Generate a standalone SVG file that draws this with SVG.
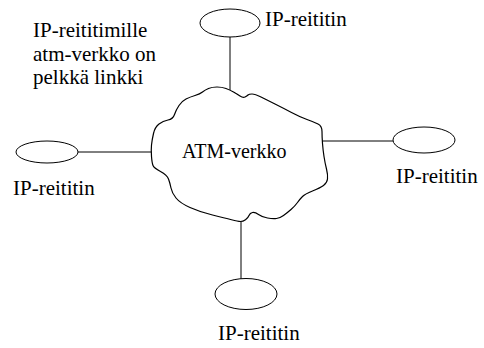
<svg xmlns="http://www.w3.org/2000/svg" width="484" height="348" viewBox="0 0 484 348">
  <style>
    .router { fill: #ffffff; stroke: #000000; stroke-width: 1; }
    .cloud { fill: #ffffff; stroke: #000000; stroke-width: 1.2; stroke-linejoin: round; }
    .link { stroke: #000000; stroke-width: 1; fill: none; }
    .label { font-family: 'Liberation Serif', 'Times New Roman', serif; font-size: 21px; fill: #000000; }
    .cloud-label { font-family: 'Liberation Serif', 'Times New Roman', serif; font-size: 20px; fill: #000000; }
  </style>
  <rect width="484" height="348" fill="#ffffff"/>

  <!-- links between routers and the ATM network -->
  <g id="connectors">
    <line class="link" x1="230" y1="37" x2="230" y2="90"/>
    <line class="link" x1="78" y1="152" x2="151" y2="152"/>
    <line class="link" x1="322" y1="141" x2="393" y2="141"/>
    <line class="link" x1="241" y1="221.5" x2="241" y2="279"/>
  </g>

  <!-- ATM network cloud -->
  <g id="atm-network">
    <path class="cloud" d="M 151.5,156.5 Q 151,150 151.5,145 Q 152,140 153.5,133.5 Q 155,127 159,124 Q 163,121 168,120 Q 173,119 174.5,114.5 Q 176,110 179,105.5 Q 182,101 186,99 Q 190,97 195,95.5 Q 200,94 202.5,92 Q 205,90 208.5,88.5 Q 212,87 217,87 Q 222,87 226,88.5 Q 230,90 233.5,92 Q 237,94 240,96 Q 243,98 245,97 Q 247,96 248,95 Q 249,94 252,94 Q 255,94 261,97 Q 267,100 275,104 Q 283,108 291.5,112.5 Q 300,117 307,119.5 Q 314,122 318,124 Q 322,126 322,131.5 Q 322,137 322.5,143.5 Q 323,150 324,156.5 Q 325,163 326.5,169 Q 328,175 327.5,179 Q 327,183 323.5,185.5 Q 320,188 312.5,191 Q 305,194 302.5,196.5 Q 300,199 297.5,202.5 Q 295,206 291,209.5 Q 287,213 283.5,215.5 Q 280,218 276.5,218.5 Q 273,219 267.5,218 Q 262,217 258.5,214.5 Q 255,212 252.5,212.5 Q 250,213 249,215.5 Q 248,218 245.5,219.75 Q 243,221.5 240.5,221.5 Q 238,221.5 231.5,219.75 Q 225,218 212.5,215 Q 200,212 190,207.5 Q 180,203 176,198 Q 172,193 171,188 Q 170,183 168.5,179 Q 167,175 160.5,171.5 Q 154,168 153,165.5 Q 152,163 151.5,156.5 Z"/>
    <text class="cloud-label" x="182" y="158">ATM-verkko</text>
  </g>

  <!-- routers -->
  <g id="router-top">
    <ellipse class="router" cx="230" cy="23" rx="30" ry="14"/>
    <text class="label" x="265" y="26">IP-reititin</text>
  </g>
  <g id="router-left">
    <ellipse class="router" cx="47" cy="152" rx="31" ry="11"/>
    <text class="label" x="13" y="195">IP-reititin</text>
  </g>
  <g id="router-right">
    <ellipse class="router" cx="424" cy="140" rx="31" ry="13"/>
    <text class="label" x="396" y="183">IP-reititin</text>
  </g>
  <g id="router-bottom">
    <ellipse class="router" cx="246" cy="294" rx="31" ry="15.5"/>
    <text class="label" x="218" y="340">IP-reititin</text>
  </g>

  <!-- explanatory note -->
  <g id="note">
    <text class="label" x="33" y="37">IP-reititimille</text>
    <text class="label" x="33" y="60.5">atm-verkko on</text>
    <text class="label" x="33" y="84">pelkkä linkki</text>
  </g>
</svg>
